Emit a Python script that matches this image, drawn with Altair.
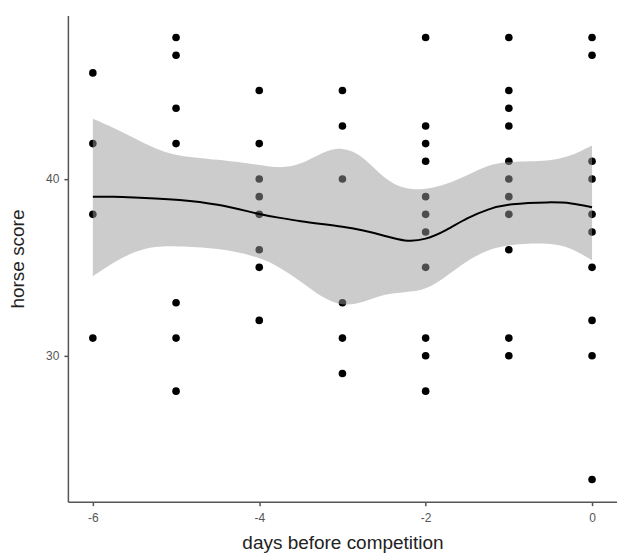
import altair as alt
import pandas as pd

# Observed scores per day
days = [-6, -5, -4, -3, -2, -1, 0]
scores = [
    [46, 42, 38, 31],
    [48, 47, 44, 42, 33, 31, 28],
    [45, 42, 40, 39, 38, 36, 35, 32],
    [45, 43, 40, 33, 31, 29],
    [48, 43, 42, 41, 39, 38, 37, 35, 31, 30, 28],
    [48, 45, 44, 43, 41, 40, 39, 38, 36, 31, 30],
    [48, 47, 41, 40, 38, 37, 35, 32, 30, 23],
]

# Smoother (loess)
fit_x = [-6, -5.75, -5.5, -5.25, -5, -4.5, -4, -3.75, -3.5, -3.25, -3, -2.75, -2.5, -2.25, -2, -1.75, -1.5, -1.25, -1, -0.5, -0.25, 0]
fit_y = [39.0, 39.0, 38.95, 38.9, 38.85, 38.6, 38.0, 37.8, 37.6, 37.45, 37.3, 37.1, 36.8, 36.45, 36.55, 37.1, 37.8, 38.3, 38.6, 38.7, 38.65, 38.4]
fit_lo = [34.5, 35.3, 35.9, 36.2, 36.2, 36.1, 35.6, 35.0, 34.2, 33.3, 32.8, 33.0, 33.5, 33.6, 33.7, 34.5, 35.4, 36.0, 36.3, 36.4, 36.1, 35.4]
fit_hi = [43.4, 42.9, 42.3, 41.7, 41.3, 41.1, 40.8, 40.6, 40.8, 41.5, 41.85, 41.3, 40.0, 39.4, 39.4, 39.7, 40.2, 40.8, 41.0, 41.0, 41.3, 41.9]

pts = pd.DataFrame(
    [{"day": d, "score": s} for d, col in zip(days, scores) for s in col]
)
fit = pd.DataFrame({"day": fit_x, "y": fit_y, "lo": fit_lo, "hi": fit_hi})

xscale = alt.Scale(domain=[-6.3, 0.3], nice=False, zero=False)
yscale = alt.Scale(domain=[21.75, 49.25], nice=False, zero=False)

xaxis = alt.Axis(values=[-6, -4, -2, 0], title="days before competition",
                 labelExpr="'' + datum.value", labelPadding=7, titlePadding=10)
yaxis = alt.Axis(values=[30, 40], title="horse score", labelExpr="'' + datum.value",
                 labelPadding=5, titlePadding=18)

points = alt.Chart(pts).mark_circle(size=58, color="black", opacity=1).encode(
    x=alt.X("day:Q", scale=xscale, axis=xaxis),
    y=alt.Y("score:Q", scale=yscale, axis=yaxis),
)

band = alt.Chart(fit).mark_area(color="#999999", opacity=0.5, interpolate="basis").encode(
    x=alt.X("day:Q", scale=xscale),
    y=alt.Y("lo:Q", scale=yscale),
    y2="hi:Q",
)

line = alt.Chart(fit).mark_line(color="black", strokeWidth=2, interpolate="basis").encode(
    x=alt.X("day:Q", scale=xscale),
    y=alt.Y("y:Q", scale=yscale),
)

chart = (
    alt.layer(points, band, line)
    .properties(
        width=550,
        height=487,
        padding={"left": 68, "top": 15, "right": 0, "bottom": 56},
        autosize=alt.AutoSizeParams(type="none"),
        background="white",
    )
    .configure_view(stroke=None)
    .configure_axis(
        grid=False,
        domainColor="#555555",
        domainWidth=1.5,
        tickColor="#555555",
        tickWidth=1.5,
        tickSize=4,
        labelColor="#555555",
        labelFont="Liberation Sans",
        labelFontSize=12,
        titleFont="Liberation Sans",
        titleFontSize=19,
        titleFontWeight="normal",
        titleColor="#222222",
    )
)

chart.save("out.html", embed_options={"renderer": "svg", "actions": False})
